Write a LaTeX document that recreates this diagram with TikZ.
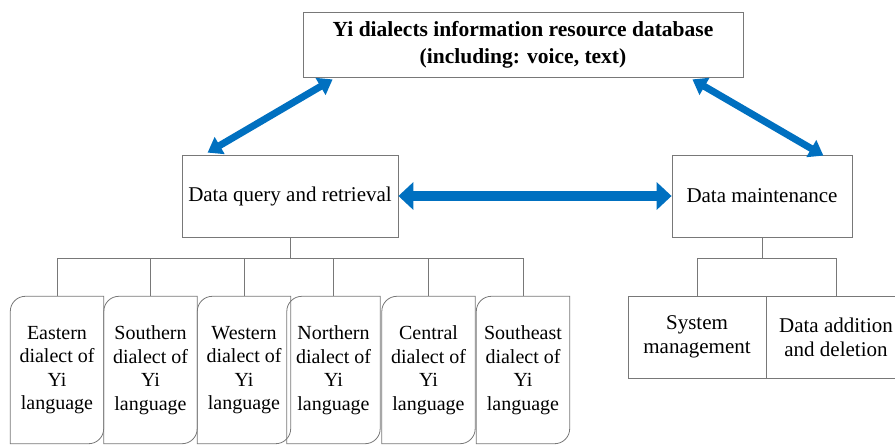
\documentclass[tikz,border=0pt]{standalone}
\usepackage{fontspec}
\setmainfont{Liberation Serif}
\usetikzlibrary{arrows.meta,calc}
\definecolor{arrowblue}{RGB}{0,112,192}
\definecolor{edgegray}{RGB}{120,120,120}
\begin{document}
\begin{tikzpicture}[x=1pt,y=-1pt,
  box/.style={draw=edgegray, line width=0.8pt, rectangle, inner sep=0pt,
    align=center, font=\fontsize{21}{24}\selectfont},
  dialect/.style={rectangle, inner sep=0pt, minimum width=93pt,
    minimum height=147pt, align=center, font=\fontsize{20}{23.5}\selectfont},
  tree/.style={draw=edgegray, line width=0.8pt},
  link/.style={draw=arrowblue, line width=10pt,
    {Triangle[length=15pt,width=27pt]}-{Triangle[length=15pt,width=27pt]}},
  slant/.style={draw=arrowblue, line width=7pt,
    {Triangle[length=14pt,width=19pt]}-{Triangle[length=14pt,width=19pt]}}]

\useasboundingbox (0,0) rectangle (895,445);

% main boxes
\node[box, minimum width=440pt, minimum height=65pt,
      font=\bfseries\fontsize{21.5}{27}\selectfont] (db) at (523,44.5)
  {Yi dialects information resource database\\(including: voice, text)};
\node[box, minimum width=216pt, minimum height=82pt] (query) at (290,196)
  {Data query and retrieval};
\node[box, minimum width=180pt, minimum height=82pt] (maint) at (762,196)
  {Data maintenance};
\node[box, minimum width=138pt, minimum height=82pt] (sys) at (697,337)
  {System\\management};
\node[box, minimum width=140pt, minimum height=82pt] (add) at (836,337)
  {Data addition\\and deletion};

% dialect boxes
\node[dialect] (dEast)  at (57,370)    {Eastern\\dialect of\\Yi\\language};
\node[dialect] (dSouth) at (150.5,370) {Southern\\dialect of\\Yi\\language};
\node[dialect] (dWest)  at (244,370)   {Western\\dialect of\\Yi\\language};
\node[dialect] (dNorth) at (333.5,370) {Northern\\dialect of\\Yi\\language};
\node[dialect] (dCent)  at (428.5,370) {Central\\dialect of\\Yi\\language};
\node[dialect] (dSE)    at (523,370)   {Southeast\\dialect of\\Yi\\language};

% outlines: rounded top-left and bottom-right corners
\def\rr{15}
\foreach \n in {dEast,dSouth,dWest,dNorth,dCent,dSE}
  \draw[tree] (\n.south west) -- ($(\n.north west)+(0,\rr)$)
    .. controls ($(\n.north west)+(0,0.45*\rr)$) and ($(\n.north west)+(0.45*\rr,0)$)
    .. ($(\n.north west)+(\rr,0)$)
    -- (\n.north east) -- ($(\n.south east)+(0,-\rr)$)
    .. controls ($(\n.south east)+(0,-0.45*\rr)$) and ($(\n.south east)+(-0.45*\rr,0)$)
    .. ($(\n.south east)+(-\rr,0)$) -- cycle;

% tree connectors
\draw[tree] (query.south) -- ++(0,21) coordinate (qbar);
\foreach \n in {dEast,dSouth,dWest,dNorth,dCent,dSE}
  \draw[tree] (qbar) -| (\n.north);
\draw[tree] (maint.south) -- ++(0,21) coordinate (mbar);
\draw[tree] (mbar) -| (sys.north);
\draw[tree] (mbar) -| (add.north);

% data flow arrows
\draw[link] (query.east) -- (maint.west);
\draw[slant] ($(db.south west)+(30,2)$) -- ($(query.north west)+(26,-2)$);
\draw[slant] ($(db.south east)+(-51,2)$) -- ($(maint.north east)+(-29,1)$);
\end{tikzpicture}
\end{document}
